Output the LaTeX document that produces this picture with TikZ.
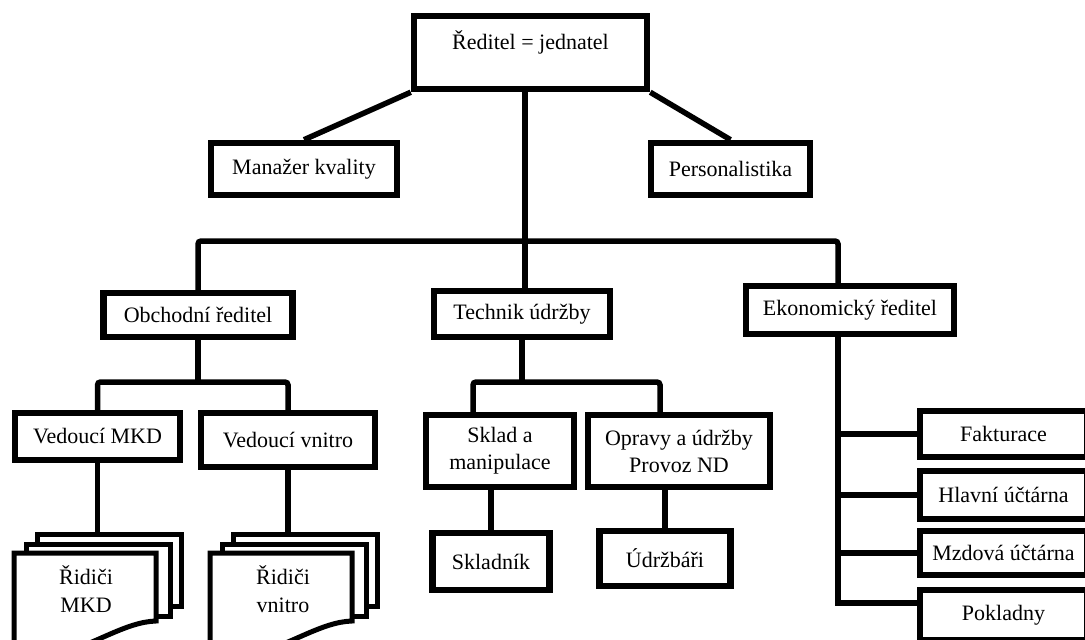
\documentclass[tikz,border=0pt]{standalone}
\usepackage{fontspec}
\setmainfont{Liberation Serif}
\begin{document}
\begin{tikzpicture}[x=1pt,y=-1pt,
  box/.style={draw, line width=6.5pt, fill=white, inner sep=0pt, align=center,
    font=\fontsize{22}{27}\selectfont},
  conn/.style={line width=5.5pt},
  sheet/.style={draw, line width=5pt, fill=white, inner sep=0pt},
  doctext/.style={inner sep=0pt, align=center, font=\fontsize{22}{28}\selectfont}]
\clip (0,0) rectangle (1085,640);
\fill[white] (0,0) rectangle (1085,640);

% boxes
\node[box, minimum width=233pt, minimum height=73pt] (top) at (530.5,52.5) {\raisebox{3pt}[0pt][0pt]{Ředitel = jednatel}};
\node[box, minimum width=186pt, minimum height=52pt] (mk) at (304,169) {Manažer kvality};
\node[box, minimum width=159pt, minimum height=52pt] (pers) at (730.5,169) {Personalistika};

\node[box, minimum width=189pt, minimum height=44pt] (obch) at (198,315) {Obchodní ředitel};
\node[box, minimum width=176pt, minimum height=46pt] (tech) at (522,314) {Technik údržby};
\node[box, minimum width=208pt, minimum height=48pt] (ekon) at (850,310) {Ekonomický ředitel};

\node[box, minimum width=165pt, minimum height=47pt] (vmkd) at (97.5,436.5) {Vedoucí MKD};
\node[box, minimum width=174pt, minimum height=54pt] (vvn) at (288,440) {Vedoucí vnitro};

\node[box, minimum width=148pt, minimum height=72pt] (sklad) at (500,451) {Sklad a\\manipulace};
\node[box, minimum width=182pt, minimum height=72pt] (opr) at (679,451) {Opravy a údržby\\Provoz ND};
\node[box, minimum width=117pt, minimum height=57pt] (skl) at (491,561.5) {Skladník};
\node[box, minimum width=131pt, minimum height=55pt] (udr) at (665,558.5) {Údržbáři};

\node[box, minimum width=167pt, minimum height=46pt] (fakt) at (1003.5,434) {Fakturace};
\node[box, minimum width=167pt, minimum height=48pt] (hlav) at (1003.5,495) {Hlavní účtárna};
\node[box, minimum width=167pt, minimum height=44pt] (mzd) at (1003.5,553) {Mzdová účtárna};
\node[box, minimum width=167pt, minimum height=50pt] (pokl) at (1003.5,615) {Pokladny};

% document stacks
\node[sheet, minimum width=144pt, minimum height=72pt] (rmkdA) at (109,570) {};
\node[sheet, minimum width=144pt, minimum height=72pt] (rmkdB) at (98,580) {};
\filldraw[fill=white, line width=5pt] (14,553) -- (156,553) -- (156,621)
  .. controls (125,622) and (95,645) .. (55,655) -- (14,655) -- cycle;
\node[doctext] (rmkd) at (86,589) {Řidiči\\MKD};

\node[sheet, minimum width=144pt, minimum height=72pt] (rvnA) at (305,570) {};
\node[sheet, minimum width=144pt, minimum height=72pt] (rvnB) at (294,580) {};
\filldraw[fill=white, line width=5pt] (210,553) -- (352,553) -- (352,621)
  .. controls (321,622) and (291,645) .. (251,655) -- (210,655) -- cycle;
\node[doctext] (rvn) at (283,589) {Řidiči\\vnitro};

% connectors
\coordinate (bus) at (525,241);
\coordinate (ekbus) at (838,241);
\draw[conn] (top.south west) -- (mk.north);
\draw[conn] (top.south east) -- (pers.north);
\draw[conn] (top.south -| bus) -- (bus);
\draw[conn, rounded corners=3pt] (obch.north) |- (bus) -- (ekbus) -- (ekon.north -| ekbus);
\draw[conn] (bus) -- (tech.north -| bus);

\coordinate (ob) at (198,382);
\draw[conn] (obch.south) -- (ob);
\draw[conn, rounded corners=3pt] (vmkd.north) |- (ob) -| (vvn.north);
\draw[conn] (vmkd.south) -- (vmkd.south |- rmkdA.north);
\draw[conn] (vvn.south) -- (vvn.south |- rvnA.north);

\coordinate (tl) at (473,382);
\coordinate (tr) at (660,382);
\draw[conn] (tech.south) -- (tech.south |- tl);
\draw[conn, rounded corners=3pt] (sklad.north -| tl) -- (tl) -- (tr) -- (opr.north -| tr);
\draw[conn] (sklad.south -| skl.north) -- (skl.north);
\draw[conn] (opr.south -| udr.north) -- (udr.north);

\coordinate (pb) at (838,603);
\draw[conn] (ekon.south -| ekbus) -- (pb) -- (pb -| pokl.west);
\draw[conn] (fakt.west -| ekbus) -- (fakt.west);
\draw[conn] (hlav.west -| ekbus) -- (hlav.west);
\draw[conn] (mzd.west -| ekbus) -- (mzd.west);
\end{tikzpicture}
\end{document}
